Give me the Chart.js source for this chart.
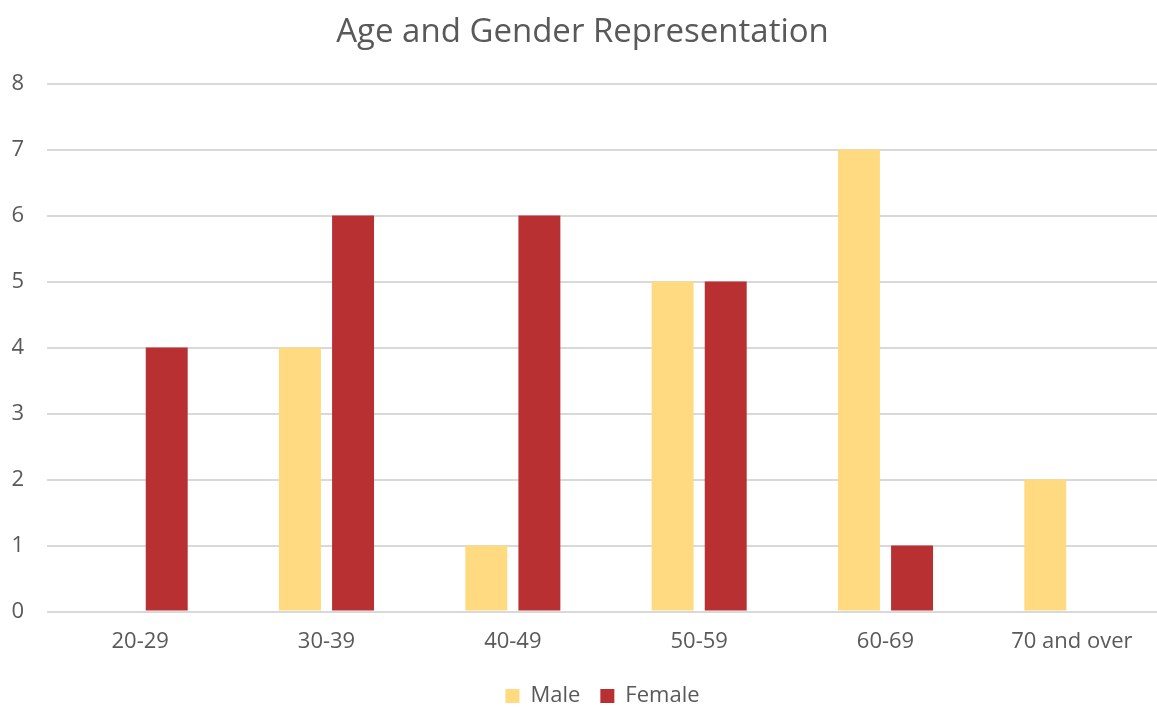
<!DOCTYPE html>
<html>
<head>
<meta charset="utf-8">
<script src="https://cdn.jsdelivr.net/npm/chart.js@4/dist/chart.umd.min.js"></script>
<style>
  html, body { margin: 0; padding: 0; background: #ffffff; overflow: hidden; }
  #wrap { position: relative; width: 1165px; height: 707px; }
</style>
</head>
<body>
<div id="wrap"><canvas id="chart"></canvas></div>
<script>
// Age bands and head counts per gender
const ageGroups = ['20-29', '30-39', '40-49', '50-59', '60-69', '70 and over'];
const maleCounts = [0, 4, 1, 5, 7, 2];
const femaleCounts = [4, 6, 6, 5, 1, 0];
const yTicks = [0, 1, 2, 3, 4, 5, 6, 7, 8];

const TEXT = '#595959';
const FONT = "'Open Sans', 'Liberation Sans', sans-serif";

// Nudges the legend box after layout
const legendShift = {
  id: 'legendShift',
  afterLayout(chart, args, opts) {
    const lg = chart.legend;
    if (!lg) return;
    lg.left += opts.dx; lg.right += opts.dx;
    lg.top += opts.dy; lg.bottom += opts.dy;
  }
};

new Chart(document.getElementById('chart'), {
  type: 'bar',
  data: {
    labels: ageGroups,
    datasets: [
      { label: 'Male', data: maleCounts, backgroundColor: '#FFDA80', borderWidth: 0 },
      { label: 'Female', data: femaleCounts, backgroundColor: '#B83032', borderWidth: 0 }
    ]
  },
  options: {
    responsive: true,
    maintainAspectRatio: false,
    animation: false,
    categoryPercentage: 0.57,
    barPercentage: 0.79,
    layout: { padding: { top: 13, right: 0, bottom: -9, left: 0 } },
    plugins: {
      title: {
        display: true,
        text: 'Age and Gender Representation',
        color: TEXT,
        font: { family: FONT, size: 33, weight: 'normal' },
        padding: { top: 0, bottom: 31 }
      },
      legend: {
        position: 'bottom',
        labels: {
          color: TEXT,
          font: { family: FONT, size: 22 },
          boxWidth: 14,
          boxHeight: 14,
          padding: 20
        }
      },
      legendShift: { dx: 20, dy: 1 },
      tooltip: { enabled: false }
    },
    scales: {
      x: {
        grid: { display: false },
        border: { display: false },
        ticks: { color: TEXT, font: { family: FONT, size: 22 }, padding: 9, maxRotation: 0 }
      },
      y: {
        min: 0,
        max: 8,
        afterFit(scale) { scale.width = 47; },
        afterBuildTicks(scale) { scale.ticks = yTicks.map(v => ({ value: v })); },
        grid: { color: '#d9d9d9', lineWidth: 2, drawTicks: false },
        border: { display: false },
        ticks: { color: TEXT, font: { family: FONT, size: 22 }, padding: 23 }
      }
    }
  },
  plugins: [legendShift]
});
</script>
</body>
</html>
